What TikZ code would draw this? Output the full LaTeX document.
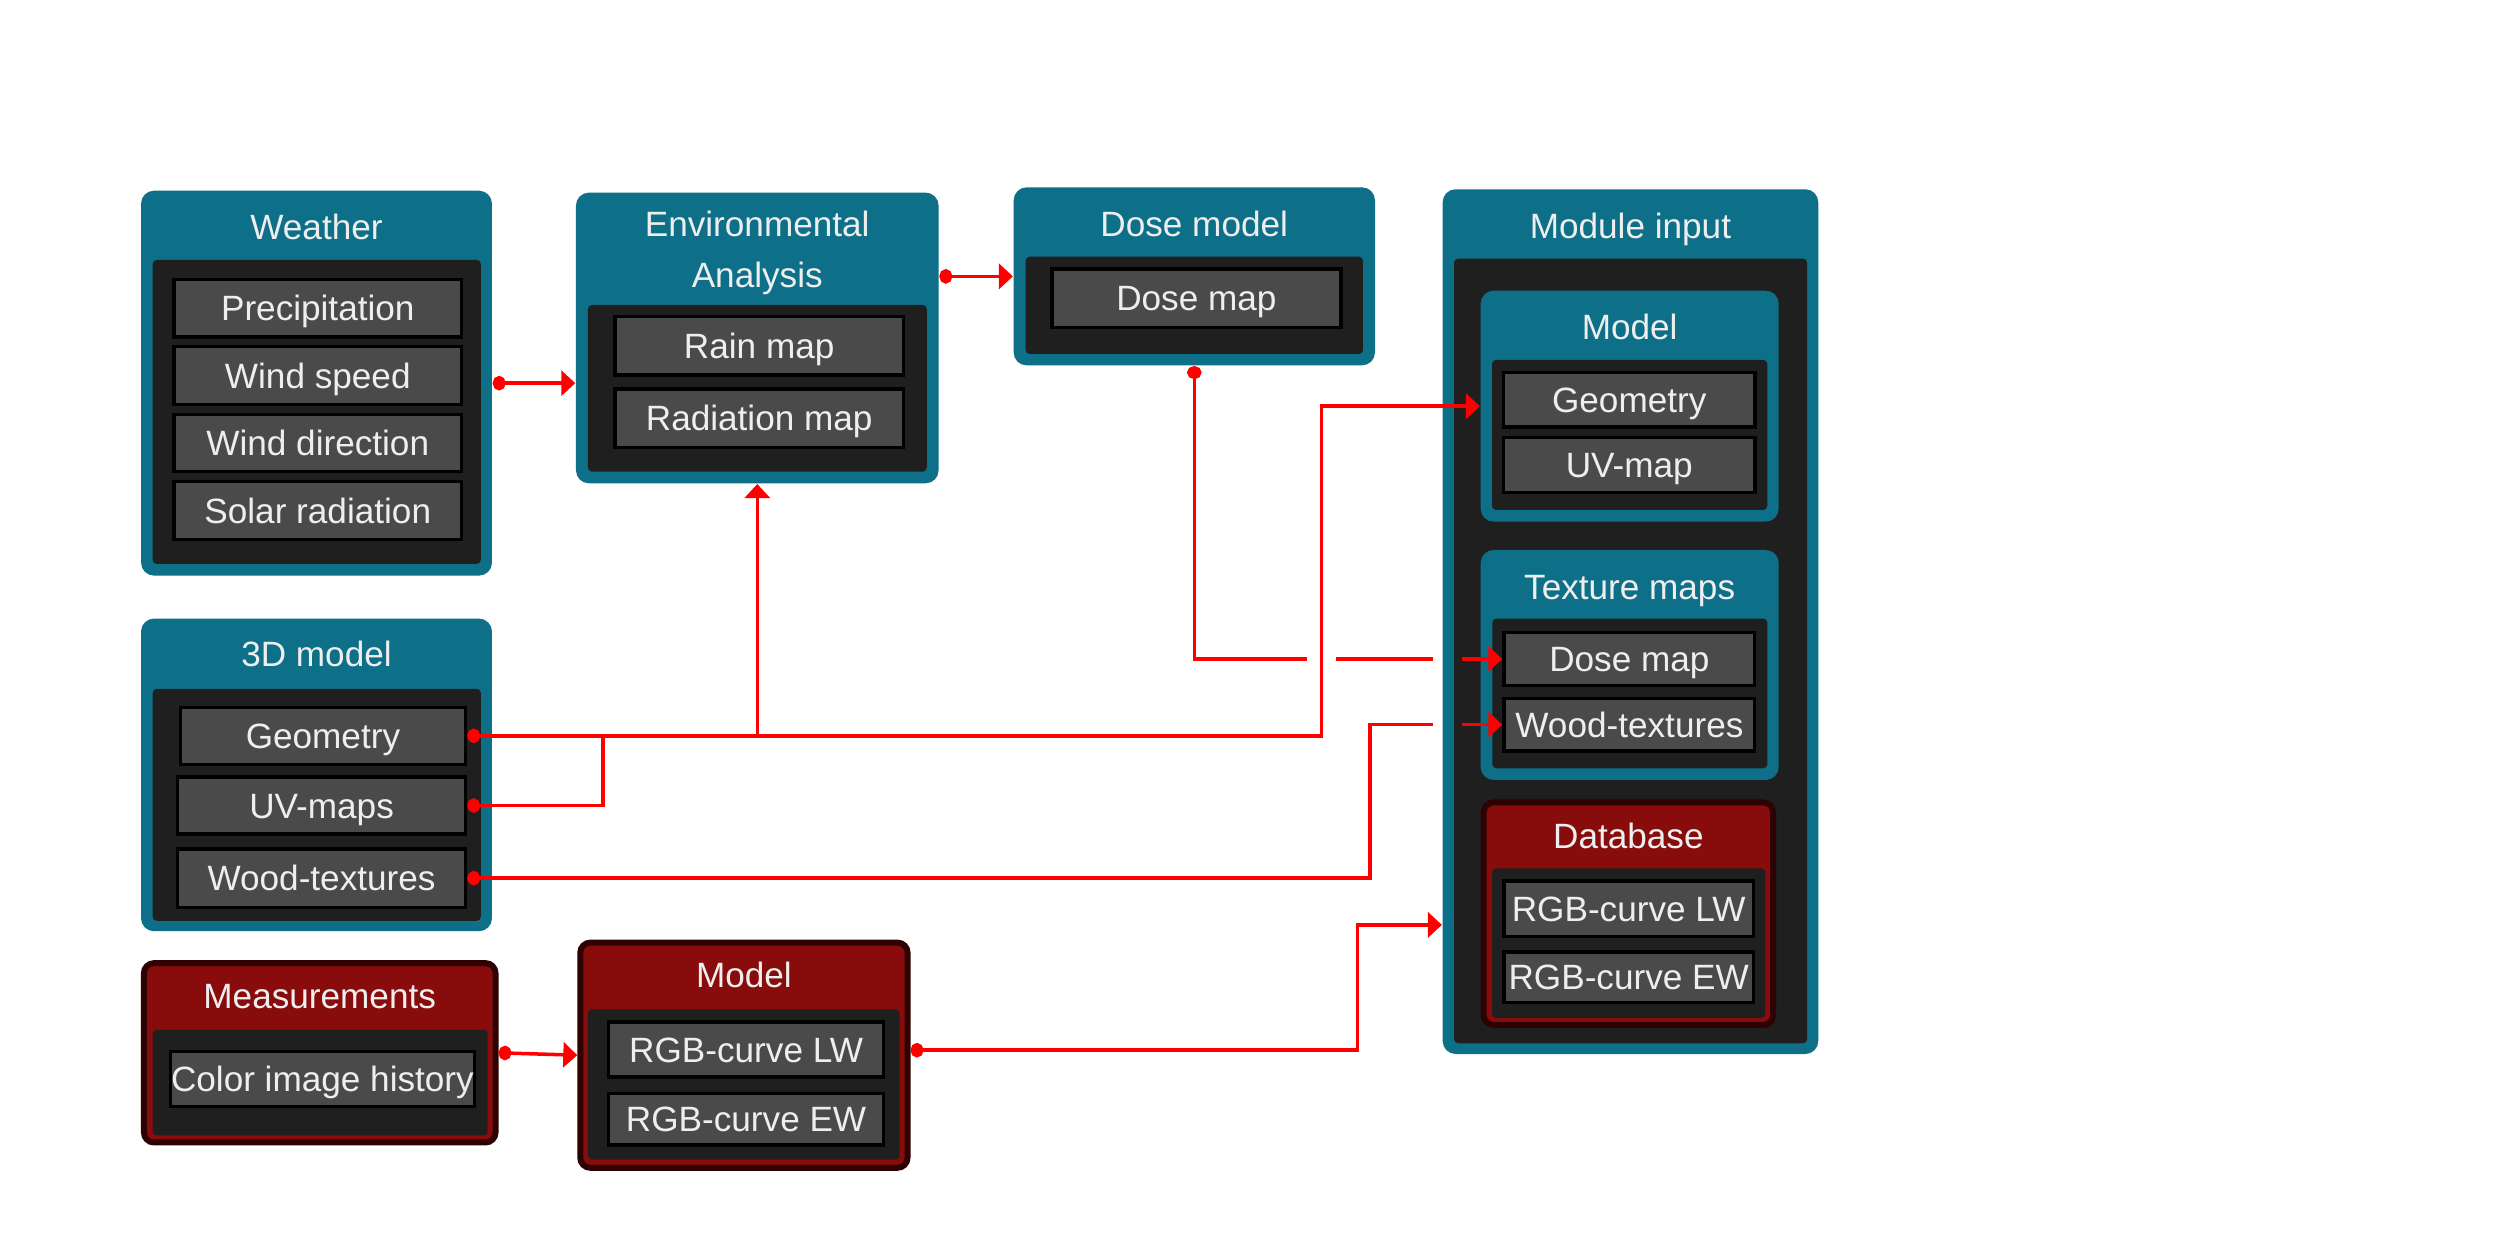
\documentclass[tikz,border=0pt]{standalone}
\usepackage{fontspec}
\setmainfont{Liberation Sans}
\usetikzlibrary{arrows.meta, calc, fit}

\definecolor{cTeal}{HTML}{0D7088}
\definecolor{cPanel}{HTML}{1F1F1F}
\definecolor{cCell}{HTML}{4A4A4A}
\definecolor{cRed}{HTML}{880C0C}
\definecolor{cRim}{HTML}{2E0202}
\definecolor{cText}{HTML}{EEEEEE}

\tikzset{
	dotx/.tip={Circle[length=0.13cm, width=0.145cm]},
	tri/.tip={Triangle[length=0.14cm, width=0.25cm]},
	grp/.style={fill=cTeal, rounded corners=0.13cm, inner sep=0pt},
	grpred/.style={fill=cRed, draw=cRim, line width=1.7pt, rounded corners=0.1cm, inner sep=0pt},
	pnl/.style={fill=cPanel, rounded corners=0.04cm, inner sep=0pt},
	cell/.style 2 args={fill=cCell, draw=black, line width=0.95pt, text=cText, inner sep=0pt,
		text height=7.2pt, text depth=0pt, minimum width=#1*0.016026cm, minimum height=#2*0.016026cm},
	ttl/.style={text=cText, inner sep=0pt, text height=7.2pt, text depth=0pt},
	wire/.style={draw=red, line width=1pt},
}

\begin{document}
\begin{tikzpicture}[x=0.016026cm, y=-0.016026cm]
	\fontsize{10}{12}\selectfont
	\fill[white] (0,0) rectangle (1560,781.2);
	\useasboundingbox (0,0) rectangle (1560,781.2);

	% Weather
	\node[grp, fit={(88,119) (307,359.2)}] (wth) {};
	\node[ttl] (wthT) at (197.5,141.4) {Weather};
	\node[pnl, fit={(95.3,162.2) (300,351.9)}] (wthP) {};
	\node[cell={179.6}{36}] (wPrec) at (198.3,192.3) {Precipitation};
	\node[cell={179.6}{36}] (wSpd) at (198.3,234.3) {Wind speed};
	\node[cell={179.6}{35.8}] (wDir) at (198.3,276.4) {Wind direction};
	\node[cell={179.6}{36.1}] (wSol) at (198.3,318.55) {Solar radiation};

	% Environmental analysis
	\node[grp, fit={(359.4,120.2) (585.7,301.6)}] (env) {};
	\node[text=cText, inner sep=0pt, align=center, font=\fontsize{10}{14.7}\selectfont] (envT) at (472.5,157.8) {Environmental\\Analysis};
	\node[pnl, fit={(366.9,190.3) (578.3,294.3)}] (envP) {};
	\node[cell={179.9}{36.4}] (eRain) at (473.75,215.8) {Rain map};
	\node[cell={179.9}{36.7}] (eRad) at (473.75,261.05) {Radiation map};

	% Dose model
	\node[grp, fit={(632.5,116.9) (858,228)}] (dsm) {};
	\node[ttl] (dsmT) at (745.2,139.4) {Dose model};
	\node[pnl, fit={(640,160.2) (850.5,220.9)}] (dsmP) {};
	\node[cell={180.3}{36.5}] (dMap) at (746.55,186.05) {Dose map};

	% Module input
	\node[grp, fit={(900.2,118.1) (1134.6,657.7)}] (mi) {};
	\node[ttl] (miT) at (1017.4,141) {Module input};
	\node[pnl, fit={(907.3,161.4) (1127.6,651)}] (miP) {};

	\node[grp, fit={(923.9,181.4) (1109.9,325.5)}] (mdl) {};
	\node[ttl] (mdlT) at (1016.9,203.8) {Model};
	\node[pnl, fit={(931,224.6) (1102.8,318.2)}] (mdlP) {};
	\node[cell={156.9}{34.2}] (mGeo) at (1016.65,249.4) {Geometry};
	\node[cell={156.9}{34.2}] (mUV) at (1016.65,290.2) {UV-map};

	\node[grp, fit={(923.9,343.2) (1109.9,486.7)}] (tex) {};
	\node[ttl] (texT) at (1016.9,366.4) {Texture maps};
	\node[pnl, fit={(931.2,386) (1102.8,479.4)}] (texP) {};
	\node[cell={156.5}{33.4}] (tDose) at (1016.75,411.2) {Dose map};
	\node[cell={156.5}{33}] (tWood) at (1016.75,452.2) {Wood-textures};

	\node[grpred, fit={(925.8,500.7) (1106.4,639.6)}] (db) {};
	\node[ttl] (dbT) at (1016.1,521.3) {Database};
	\node[pnl, fit={(931,541.8) (1101.5,635.2)}] (dbP) {};
	\node[cell={155.6}{34.5}] (dbLW) at (1016.3,566.95) {RGB-curve LW};
	\node[cell={155.6}{31.7}] (dbEW) at (1016.3,609.85) {RGB-curve EW};

	% 3D model
	\node[grp, fit={(88,386) (307,581.1)}] (m3d) {};
	\node[ttl] (m3dT) at (197.5,408.2) {3D model};
	\node[pnl, fit={(95.3,429.8) (300,574.6)}] (m3dP) {};
	\node[cell={178}{35.7}] (gGeo) at (201.5,459.15) {Geometry};
	\node[cell={179.7}{35.7}] (gUV) at (200.65,502.65) {UV-maps};
	\node[cell={179.7}{36.4}] (gWood) at (200.65,548) {Wood-textures};

	% Measurements
	\node[grpred, fit={(89.8,601) (309.2,712.9)}] (mea) {};
	\node[ttl] (meaT) at (199.5,621.2) {Measurements};
	\node[pnl, fit={(95.3,642.6) (304.3,708.5)}] (meaP) {};
	\node[cell={189.4}{34.5}] (mHist) at (201.2,673.25) {Color image history};

	% Model (red)
	\node[grpred, fit={(362.1,588.2) (566.3,728.7)}] (rm) {};
	\node[ttl] (rmT) at (464.2,608.4) {Model};
	\node[pnl, fit={(366.9,629.8) (561.4,723.6)}] (rmP) {};
	\node[cell={171.5}{34.3}] (rLW) at (465.55,654.95) {RGB-curve LW};
	\node[cell={171.5}{32.2}] (rEW) at (465.55,698.4) {RGB-curve EW};

	% wires
	\coordinate (gv) at (824.7,0);
	\coordinate (uvj) at (376.4,0);
	\coordinate (wv) at (854.9,0);
	\coordinate (rv) at (847.2,0);
	\coordinate (miin) at ($(mi.south west)+(0,-81)$);

	\draw[wire, dotx-tri] (wth.east) -- (env.west |- wth.east);
	\draw[wire, dotx-tri] (env.east |- dsm.west) -- (dsm.west);
	\draw[wire, dotx-tri] (mea.east) -- (rm.west);

	\draw[wire, dotx-tri] (gGeo.east) -- (gv |- gGeo.east) |- (mdl.west);
	\draw[wire, -tri] (env.south |- gGeo.east) -- (env.south);
	\draw[wire, dotx-] (gUV.east) -| (uvj |- gGeo.east);

	\draw[wire, dotx-] (dsm.south) |- ($(gv |- tDose.west)+(-9,0)$);
	\draw[wire] ($(gv |- tDose.west)+(9,0)$) -- ($(tDose.west)+(-43,0)$);
	\draw[wire, -tri] ($(tDose.west)+(-25,0)$) -- (tDose.west);

	\draw[wire, dotx-] (gWood.east) -| (wv |- tWood.west) -- ($(tWood.west)+(-43,0)$);
	\draw[wire, -tri] ($(tWood.west)+(-25,0)$) -- (tWood.west);

	\draw[wire, dotx-tri] ([yshift=0.05cm]rm.east) -| (rv |- miin) -- (miin);
\end{tikzpicture}
\end{document}
